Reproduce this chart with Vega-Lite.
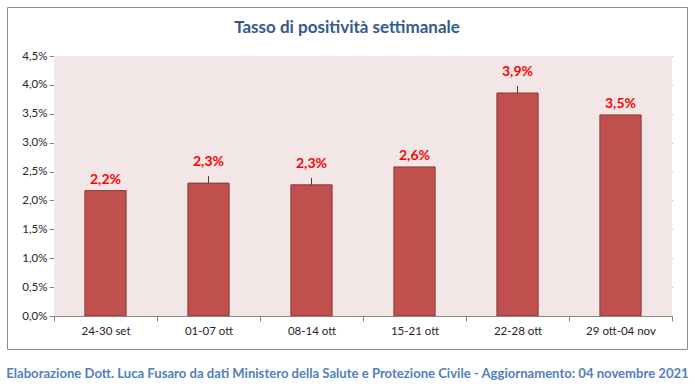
{
  "$schema": "https://vega.github.io/schema/vega-lite/v6.json",
  "width": 680,
  "height": 342,
  "autosize": {"type": "none"},
  "padding": {"left": 7, "top": 7, "right": 8, "bottom": 37},
  "background": "white",
  "title": {
    "text": "Tasso di positività settimanale",
    "anchor": "middle",
    "frame": "group",
    "offset": -30,
    "font": "Lato",
    "fontSize": 17,
    "fontWeight": "bold",
    "color": "#35598D"
  },
  "config": {
    "locale": {"number": {"decimal": ",", "thousands": ".", "grouping": [3], "currency": ["€", ""]}},
    "view": {"stroke": "#8C8C8C", "strokeWidth": 1, "fill": "white"},
    "axisY": {
      "labelFont": "Lato",
      "labelFontSize": 11.5,
      "labelColor": "#262626",
      "labelPadding": 2,
      "tickSize": 5,
      "tickColor": "#868686",
      "domainColor": "#868686",
      "gridColor": "#868686",
      "gridWidth": 1
    }
  },
  "data": {
    "values": [
      {"periodo": "24-30 set", "valore": 0.0217},
      {"periodo": "01-07 ott", "valore": 0.0230},
      {"periodo": "08-14 ott", "valore": 0.0227},
      {"periodo": "15-21 ott", "valore": 0.0258},
      {"periodo": "22-28 ott", "valore": 0.0386},
      {"periodo": "29 ott-04 nov", "valore": 0.0348}
    ]
  },
  "encoding": {
    "x": {
      "field": "periodo",
      "type": "nominal",
      "sort": null,
      "scale": {"type": "band", "range": [47, 665], "paddingInner": 0, "paddingOuter": 0},
      "axis": {
        "title": "Elaborazione Dott. Luca Fusaro da dati Ministero della Salute e Protezione Civile - Aggiornamento: 04 novembre 2021",
        "offset": -33,
        "tickBand": "extent",
        "tickSize": 5,
        "tickColor": "#868686",
        "domainColor": "#868686",
        "labelPadding": 4,
        "labelFont": "Lato",
        "labelFontSize": 11.5,
        "labelColor": "#262626",
        "labelAngle": 0,
        "grid": false,
        "titleX": 340,
        "titleY": 57,
        "titleAlign": "center",
        "titleBaseline": "middle",
        "titleFont": "Lato",
        "titleFontSize": 13.1,
        "titleFontWeight": "bold",
        "titleColor": "#4F81BD"
      }
    }
  },
  "layer": [
    {
      "mark": {"type": "rect", "fill": "#F2E7E6"},
      "encoding": {
        "y": {
          "datum": 0,
          "type": "quantitative",
          "scale": {"domain": [0, 0.045], "range": [309, 49], "nice": false, "zero": true},
          "axis": {"title": null, "values": [0, 0.005, 0.01, 0.015, 0.02, 0.025, 0.03, 0.035, 0.04, 0.045], "format": ".1%", "offset": -47, "grid": true}
        },
        "y2": {"datum": 0.045}
      }
    },
    {
      "mark": {"type": "bar", "fill": "#C0504D", "stroke": "#8C3836", "strokeWidth": 1, "width": {"band": 0.4}},
      "encoding": {
        "y": {"field": "valore", "type": "quantitative", "axis": {"title": null, "values": [0, 0.005, 0.01, 0.015, 0.02, 0.025, 0.03, 0.035, 0.04, 0.045], "format": ".1%", "offset": -47, "grid": true}}
      }
    },
    {
      "transform": [{"filter": {"field": "periodo", "oneOf": ["01-07 ott", "08-14 ott", "22-28 ott"]}}],
      "mark": {"type": "rule", "color": "#404040", "strokeWidth": 1, "y2Offset": -7},
      "encoding": {
        "y": {"field": "valore", "type": "quantitative", "axis": {"title": null, "values": [0, 0.005, 0.01, 0.015, 0.02, 0.025, 0.03, 0.035, 0.04, 0.045], "format": ".1%", "offset": -47, "grid": true}},
        "y2": {"field": "valore"}
      }
    },
    {
      "transform": [{"filter": {"field": "periodo", "oneOf": ["24-30 set", "15-21 ott", "29 ott-04 nov"]}}],
      "mark": {"type": "text", "baseline": "bottom", "dy": -4, "font": "Lato", "fontSize": 14, "fontWeight": "bold", "color": "#FF0000"},
      "encoding": {
        "y": {"field": "valore", "type": "quantitative", "axis": {"title": null, "values": [0, 0.005, 0.01, 0.015, 0.02, 0.025, 0.03, 0.035, 0.04, 0.045], "format": ".1%", "offset": -47, "grid": true}},
        "text": {"field": "valore", "type": "quantitative", "format": ".1%"}
      }
    },
    {
      "transform": [{"filter": {"field": "periodo", "oneOf": ["01-07 ott", "08-14 ott", "22-28 ott"]}}],
      "mark": {"type": "text", "baseline": "bottom", "dy": -14, "font": "Lato", "fontSize": 14, "fontWeight": "bold", "color": "#FF0000"},
      "encoding": {
        "y": {"field": "valore", "type": "quantitative", "axis": {"title": null, "values": [0, 0.005, 0.01, 0.015, 0.02, 0.025, 0.03, 0.035, 0.04, 0.045], "format": ".1%", "offset": -47, "grid": true}},
        "text": {"field": "valore", "type": "quantitative", "format": ".1%"}
      }
    }
  ]
}
